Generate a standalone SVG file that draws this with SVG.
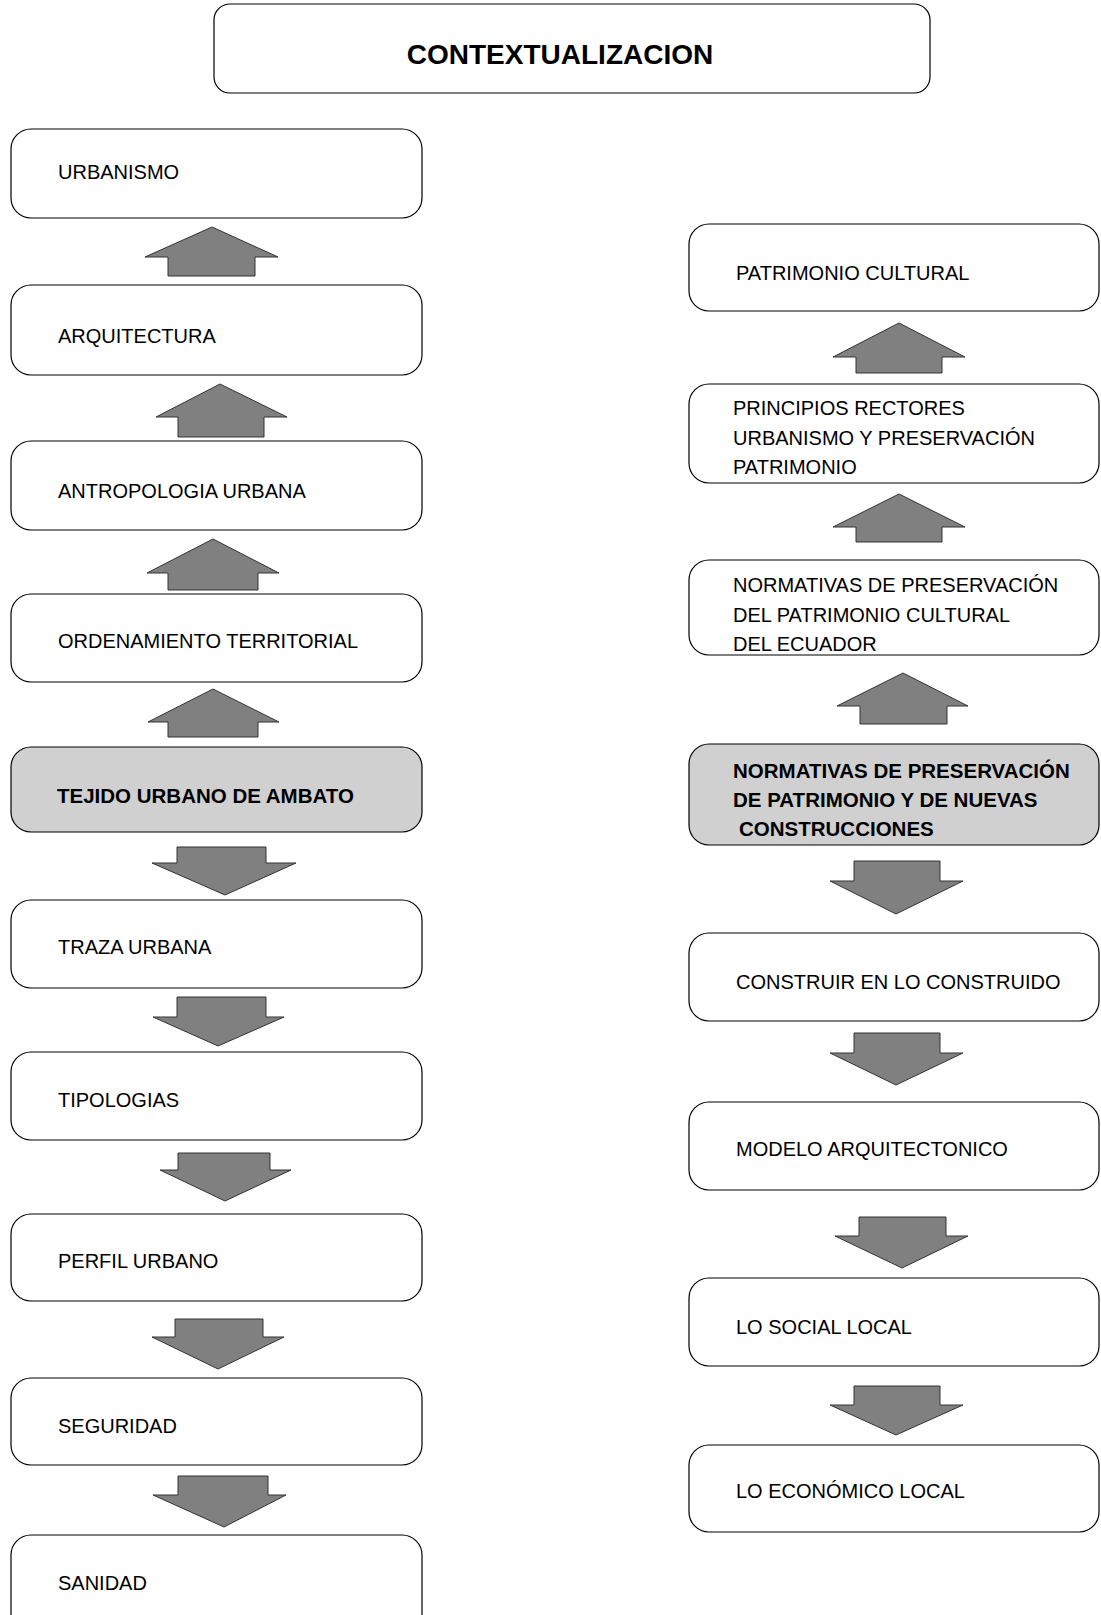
<svg xmlns="http://www.w3.org/2000/svg" width="1101" height="1615" viewBox="0 0 1101 1615">
<style>
.box{fill:#ffffff;stroke:#000000;stroke-width:1.2}
.hl{fill:#d0d0d0;stroke:#000000;stroke-width:1.2}
.t{font-family:"Liberation Sans",Arial,sans-serif;font-size:20px;fill:#000000}
.b{font-family:"Liberation Sans",Arial,sans-serif;font-size:20.5px;font-weight:bold;fill:#000000}
.arr{fill:#808080;stroke:#333333;stroke-width:1}
</style>
<rect x="0" y="0" width="1101" height="1615" fill="#ffffff"/>
<g id="title">
<rect class="box" x="214" y="4" width="716" height="89" rx="16"/>
<text x="560" y="64" text-anchor="middle" style="font-family:'Liberation Sans',Arial,sans-serif;font-size:28px;font-weight:bold">CONTEXTUALIZACION</text>
</g>
<g id="urbanismo"><rect class="box" x="11" y="129" width="411" height="89" rx="20"/><text class="t" x="58" y="179">URBANISMO</text></g>
<g id="arquitectura"><rect class="box" x="11" y="285" width="411" height="90" rx="20"/><text class="t" x="58" y="343">ARQUITECTURA</text></g>
<g id="antropologia"><rect class="box" x="11" y="441" width="411" height="89" rx="20"/><text class="t" x="58" y="498">ANTROPOLOGIA URBANA</text></g>
<g id="ordenamiento"><rect class="box" x="11" y="594" width="411" height="88" rx="20"/><text class="t" x="58" y="648">ORDENAMIENTO TERRITORIAL</text></g>
<g id="tejido"><rect class="hl" x="11" y="747" width="411" height="85" rx="20"/><text class="b" x="57" y="803">TEJIDO URBANO DE AMBATO</text></g>
<g id="traza"><rect class="box" x="11" y="900" width="411" height="88" rx="20"/><text class="t" x="58" y="954">TRAZA URBANA</text></g>
<g id="tipologias"><rect class="box" x="11" y="1052" width="411" height="88" rx="20"/><text class="t" x="58" y="1107">TIPOLOGIAS</text></g>
<g id="perfil"><rect class="box" x="11" y="1214" width="411" height="87" rx="20"/><text class="t" x="58" y="1268">PERFIL URBANO</text></g>
<g id="seguridad"><rect class="box" x="11" y="1378" width="411" height="87" rx="20"/><text class="t" x="58" y="1433">SEGURIDAD</text></g>
<g id="sanidad"><rect class="box" x="11" y="1535" width="411" height="100" rx="20"/><text class="t" x="58" y="1590">SANIDAD</text></g>
<g id="patrimonio"><rect class="box" x="689" y="224" width="410" height="87" rx="20"/><text class="t" x="736" y="280">PATRIMONIO CULTURAL</text></g>
<g id="principios"><rect class="box" x="689" y="384" width="410" height="99" rx="20"/><text class="t" x="733" y="415">PRINCIPIOS RECTORES</text><text class="t" x="733" y="445">URBANISMO Y PRESERVACIÓN</text><text class="t" x="733" y="474">PATRIMONIO</text></g>
<g id="normativas_ecuador"><rect class="box" x="689" y="560" width="410" height="95" rx="20"/><text class="t" x="733" y="592">NORMATIVAS DE PRESERVACIÓN</text><text class="t" x="733" y="622">DEL PATRIMONIO CULTURAL</text><text class="t" x="733" y="651">DEL ECUADOR</text></g>
<g id="normativas_nuevas"><rect class="hl" x="689" y="744" width="410" height="101" rx="20"/><text class="b" x="733" y="778">NORMATIVAS DE PRESERVACIÓN</text><text class="b" x="733" y="807">DE PATRIMONIO Y DE NUEVAS</text><text class="b" x="739" y="836">CONSTRUCCIONES</text></g>
<g id="construir"><rect class="box" x="689" y="933" width="410" height="88" rx="20"/><text class="t" x="736" y="989">CONSTRUIR EN LO CONSTRUIDO</text></g>
<g id="modelo"><rect class="box" x="689" y="1102" width="410" height="88" rx="20"/><text class="t" x="736" y="1156">MODELO ARQUITECTONICO</text></g>
<g id="social"><rect class="box" x="689" y="1278" width="410" height="88" rx="20"/><text class="t" x="736" y="1334">LO SOCIAL LOCAL</text></g>
<g id="economico"><rect class="box" x="689" y="1445" width="410" height="87" rx="20"/><text class="t" x="736" y="1498">LO ECONÓMICO LOCAL</text></g>
<g id="connectors">
<polygon class="arr" points="212,227 278,257 255,257 255,276 168,276 168,257 145,257"/>
<polygon class="arr" points="220,384 287,417 264,417 264,437 178,437 178,417 156,417"/>
<polygon class="arr" points="213,539 279,573 258,573 258,590 168,590 168,573 147,573"/>
<polygon class="arr" points="213,689 279,722 258,722 258,737 168,737 168,722 148,722"/>
<polygon class="arr" points="177,847 266,847 266,863 296,863 225,895 152,863 177,863"/>
<polygon class="arr" points="177,997 266,997 266,1017 284,1017 218,1046 153,1017 177,1017"/>
<polygon class="arr" points="178,1153 270,1153 270,1170 291,1170 225,1201 160,1170 178,1170"/>
<polygon class="arr" points="175,1319 263,1319 263,1337 284,1337 218,1369 152,1337 175,1337"/>
<polygon class="arr" points="178,1476 268,1476 268,1495 286,1495 224,1527 153,1495 178,1495"/>
<polygon class="arr" points="899,323 965,357 942,357 942,373 856,373 856,357 833,357"/>
<polygon class="arr" points="899,494 965,527 942,527 942,542 856,542 856,527 833,527"/>
<polygon class="arr" points="903,673 968,706 947,706 947,724 860,724 860,706 837,706"/>
<polygon class="arr" points="854,861 940,861 940,881 963,881 896,914 830,881 854,881"/>
<polygon class="arr" points="854,1033 940,1033 940,1053 963,1053 896,1085 830,1053 854,1053"/>
<polygon class="arr" points="859,1217 946,1217 946,1236 968,1236 902,1268 835,1236 859,1236"/>
<polygon class="arr" points="854,1386 940,1386 940,1405 963,1405 896,1435 830,1405 854,1405"/>
</g>
</svg>
